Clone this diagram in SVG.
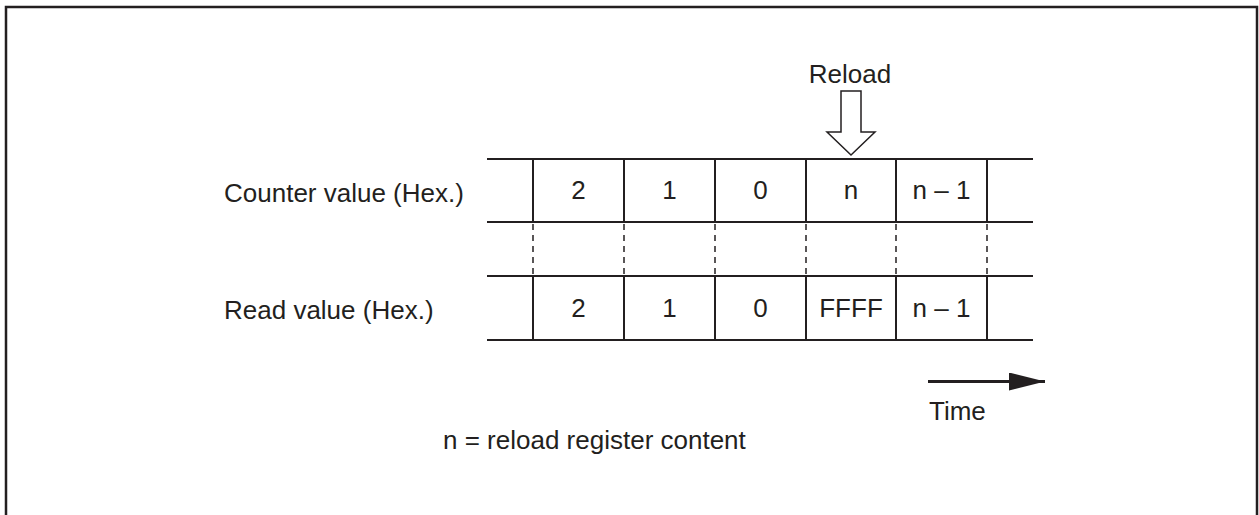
<svg xmlns="http://www.w3.org/2000/svg" width="1259" height="515" viewBox="0 0 1259 515">
<style>
text{font-family:"Liberation Sans",Arial,sans-serif;font-size:26px;fill:#231f20}
.c{text-anchor:middle}
.ln{stroke:#231f20;stroke-width:2;fill:none}
.ds{stroke:#231f20;stroke-width:1.5;stroke-dasharray:6,5;fill:none}
</style>
<defs>
<marker id="ah" markerWidth="36" markerHeight="18" refX="36" refY="9" orient="auto" markerUnits="userSpaceOnUse">
<path d="M0,0 L36,9 L0,18 Z" fill="#231f20"/>
</marker>
</defs>
<rect x="6" y="7" width="1251" height="520" fill="#fff" stroke="#231f20" stroke-width="2.5"/>
<g id="labels">
<text x="224" y="202">Counter value (Hex.)</text>
<text x="224" y="319">Read value (Hex.)</text>
<text x="443" y="449">n = reload register content</text>
<text x="929" y="420">Time</text>
<text class="c" x="850" y="83">Reload</text>
</g>
<g id="counter-row">
<line class="ln" x1="487" y1="159" x2="1033" y2="159"/>
<line class="ln" x1="487" y1="222" x2="1033" y2="222"/>
<line class="ln" x1="533" y1="159" x2="533" y2="222"/>
<line class="ln" x1="624" y1="159" x2="624" y2="222"/>
<line class="ln" x1="715" y1="159" x2="715" y2="222"/>
<line class="ln" x1="806" y1="159" x2="806" y2="222"/>
<line class="ln" x1="896" y1="159" x2="896" y2="222"/>
<line class="ln" x1="987" y1="159" x2="987" y2="222"/>
<text class="c" x="578.5" y="199">2</text>
<text class="c" x="669.5" y="199">1</text>
<text class="c" x="760.5" y="199">0</text>
<text class="c" x="851" y="199">n</text>
<text class="c" x="941.5" y="199">n – 1</text>
</g>
<g id="read-row">
<line class="ln" x1="487" y1="276" x2="1033" y2="276"/>
<line class="ln" x1="487" y1="340" x2="1033" y2="340"/>
<line class="ln" x1="533" y1="276" x2="533" y2="340"/>
<line class="ln" x1="624" y1="276" x2="624" y2="340"/>
<line class="ln" x1="715" y1="276" x2="715" y2="340"/>
<line class="ln" x1="806" y1="276" x2="806" y2="340"/>
<line class="ln" x1="896" y1="276" x2="896" y2="340"/>
<line class="ln" x1="987" y1="276" x2="987" y2="340"/>
<text class="c" x="578.5" y="317">2</text>
<text class="c" x="669.5" y="317">1</text>
<text class="c" x="760.5" y="317">0</text>
<text class="c" x="851" y="317">FFFF</text>
<text class="c" x="941.5" y="317">n – 1</text>
</g>
<g id="connectors">
<line class="ds" x1="533" y1="224" x2="533" y2="275"/>
<line class="ds" x1="624" y1="224" x2="624" y2="275"/>
<line class="ds" x1="715" y1="224" x2="715" y2="275"/>
<line class="ds" x1="806" y1="224" x2="806" y2="275"/>
<line class="ds" x1="896" y1="224" x2="896" y2="275"/>
<line class="ds" x1="987" y1="224" x2="987" y2="275"/>
<path d="M841,91 L861,91 L861,132 L875,132 L851,155 L827,132 L841,132 Z" fill="#fff" stroke="#231f20" stroke-width="1.5" stroke-linejoin="miter"/>
<line x1="928" y1="381.5" x2="1045" y2="381.5" stroke="#231f20" stroke-width="3" marker-end="url(#ah)"/>
</g>
</svg>
